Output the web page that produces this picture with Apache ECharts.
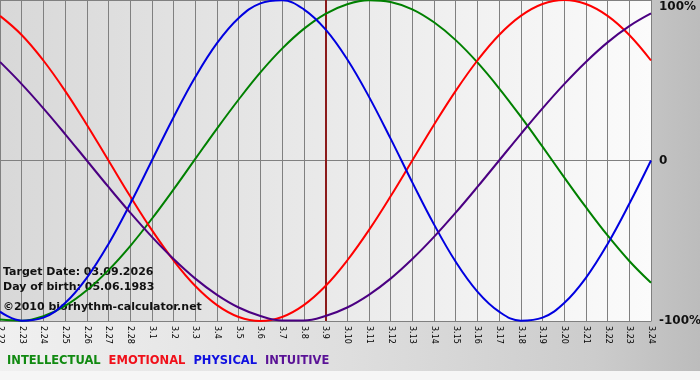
<!DOCTYPE html>
<html>
<head>
<meta charset="utf-8">
<script src="https://cdn.jsdelivr.net/npm/echarts@6/dist/echarts.min.js"></script>
<style>html,body{margin:0;padding:0;background:#fff}#c{width:700px;height:380px}</style>
</head>
<body>
<div id="c"></div>
<script>
const days = ['2.22','2.23','2.24','2.25','2.26','2.27','2.28','3.1','3.2','3.3','3.4','3.5','3.6','3.7','3.8','3.9','3.10','3.11','3.12','3.13','3.14','3.15','3.16','3.17','3.18','3.19','3.20','3.21','3.22','3.23','3.24'];
const intellectual = [-99.1,-99.8,-97.0,-90.6,-80.9,-68.3,-53.3,-36.3,-18.0,1.0,19.9,38.0,54.9,69.7,82.0,91.4,97.4,99.9,98.8,94.2,86.1,75.0,61.1,45.0,27.3,8.6,-10.5,-29.1,-46.7,-62.6,-76.2];
const emotional = [90.1,78.2,62.3,43.4,22.3,0,-22.3,-43.4,-62.3,-78.2,-90.1,-97.5,-100,-97.5,-90.1,-78.2,-62.3,-43.4,-22.3,0,22.3,43.4,62.3,78.2,90.1,97.5,100,97.5,90.1,78.2,62.3];
const physical = [-94.2,-99.8,-97.9,-88.8,-73.1,-52.0,-27.0,0,27.0,52.0,73.1,88.8,97.9,99.8,94.2,81.7,63.1,39.8,13.6,-13.6,-39.8,-63.1,-81.7,-94.2,-99.8,-97.9,-88.8,-73.1,-52.0,-27.0,0];
const intuitive = [61.4,47.6,32.5,16.5,0,-16.5,-32.5,-47.6,-61.4,-73.6,-83.7,-91.6,-96.9,-99.7,-99.7,-96.9,-91.6,-83.7,-73.6,-61.4,-47.6,-32.5,-16.5,0,16.5,32.5,47.6,61.4,73.6,83.7,91.6];
const seriesNames = ['INTELLECTUAL','EMOTIONAL','PHYSICAL','INTUITIVE'];
const seriesColors = ['#008000','#ff0000','#0000e0','#4b0082'];
const legendColors = ['#118a11','#f0101a','#1010e0','#5a1296'];
const targetDay = '3.9';
const yTickValues = [-100, 0, 100];
const yTickLabels = ['-100%', '0', '100%'];
const infoLines = ['Target Date: 03.09.2026', 'Day of birth: 05.06.1983', '\u00a92010 biorhythm-calculator.net'];

const chart = echarts.init(document.getElementById('c'), null, {renderer: 'canvas'});
const seriesData = [intellectual, emotional, physical, intuitive];
const font = 'DejaVu Sans';

const series = seriesData.map((d, i) => ({
  name: seriesNames[i],
  type: 'line',
  data: d,
  smooth: 0.4,
  showSymbol: false,
  lineStyle: {width: 2, color: seriesColors[i]},
  itemStyle: {color: seriesColors[i]},
  silent: true,
  z: 3
}));
series[0].markLine = {
  silent: true,
  symbol: ['none', 'none'],
  label: {show: false},
  lineStyle: {color: '#8b1a1a', width: 2, type: 'solid'},
  data: [{xAxis: targetDay}],
  z: 2
};

chart.setOption({
  animation: false,
  backgroundColor: new echarts.graphic.LinearGradient(0, 0, 1, 0, [
    {offset: 0, color: '#f0f0f0'},
    {offset: 0.5, color: '#dedede'},
    {offset: 0.85, color: '#cccccc'},
    {offset: 1, color: '#bcbcbc'}
  ]),
  grid: {
    left: 0, right: 49, top: 0, bottom: 59,
    containLabel: false,
    outerBoundsMode: 'none',
    show: true,
    borderWidth: 0,
    backgroundColor: new echarts.graphic.LinearGradient(0, 0, 1, 0, [
      {offset: 0, color: '#d8d8d8'},
      {offset: 1, color: '#fbfbfb'}
    ])
  },
  legend: {
    left: 2, top: 354, padding: 0,
    icon: 'none',
    itemWidth: 0, itemHeight: 14, itemGap: 3,
    selectedMode: false,
    textStyle: {fontFamily: font, fontSize: 11.5, fontWeight: 'bold'},
    data: seriesNames.map((n, i) => ({name: n, textStyle: {color: legendColors[i]}}))
  },
  xAxis: {
    type: 'category',
    data: days,
    boundaryGap: false,
    axisLine: {show: true, lineStyle: {color: '#808080', width: 1}},
    axisTick: {show: true, length: 5, interval: 0, lineStyle: {color: '#808080'}},
    splitLine: {show: true, interval: 0, lineStyle: {color: '#808080', width: 1}},
    axisLabel: {
      interval: 0, rotate: -90, margin: 5, hideOverlap: false,
      fontFamily: font, fontSize: 8, color: '#000'
    }
  },
  yAxis: {
    type: 'value',
    position: 'right',
    min: -100, max: 100, interval: 100,
    axisLine: {show: true, lineStyle: {color: '#808080'}},
    axisTick: {show: false},
    splitLine: {show: true, lineStyle: {color: '#808080', width: 1}},
    axisLabel: {
      margin: 8,
      fontFamily: font, fontSize: 12, fontWeight: 'bold', color: '#111',
      formatter: function (v) {
        const idx = yTickValues.indexOf(v);
        const t = idx >= 0 ? yTickLabels[idx] : '';
        return v === 100 ? '{top|' + t + '}' : t;
      },
      rich: {
        top: {fontFamily: font, fontSize: 12, fontWeight: 'bold', color: '#111', padding: [14, 0, 0, 0]}
      }
    }
  },
  graphic: [
    {type: 'rect', left: 0, top: 371, shape: {width: 700, height: 9}, style: {fill: '#f6f6f6'}, z: 0, silent: true}
  ].concat(infoLines.map((t, i) => ({
    type: 'text', left: 3, top: [267, 282, 302][i], z: 1, silent: true,
    style: {text: t, fill: '#111', font: 'bold 11px "DejaVu Sans"'}
  }))),
  series: series
});
</script>
</body>
</html>
